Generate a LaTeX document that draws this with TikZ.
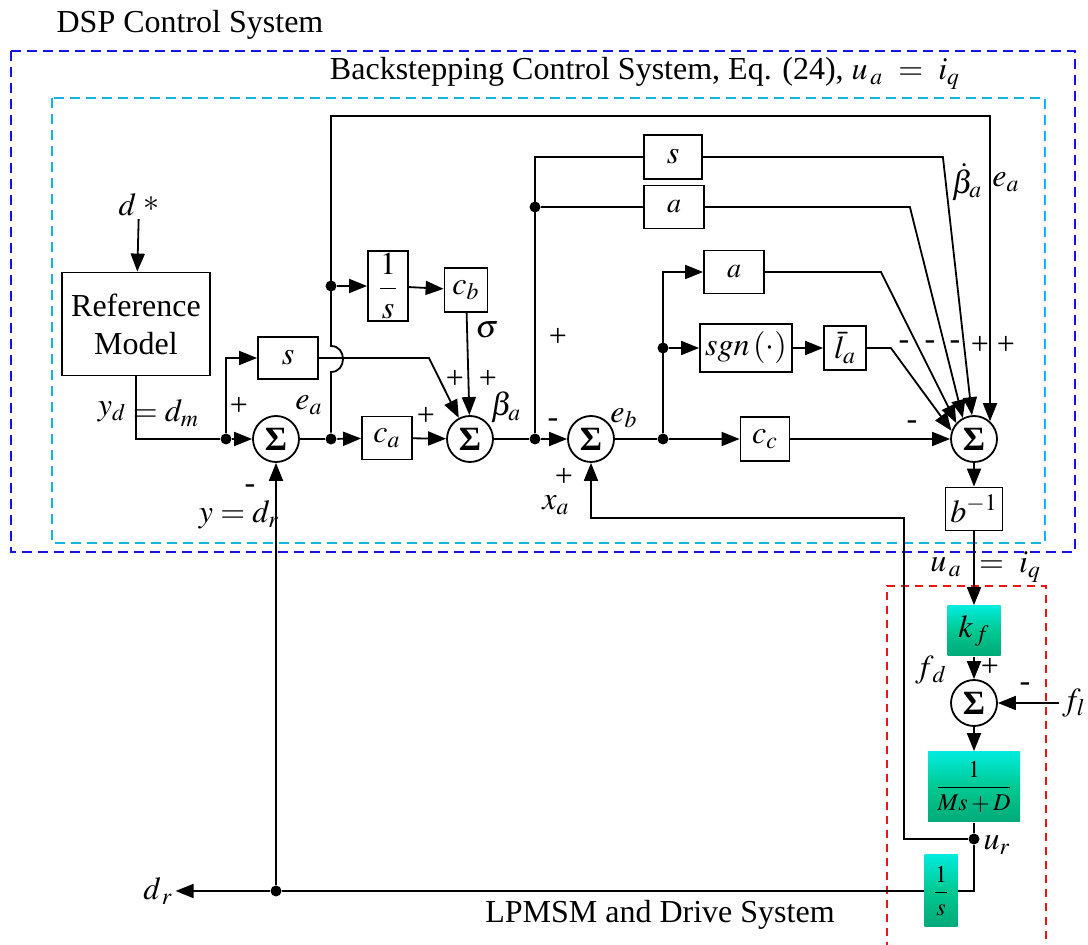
\documentclass[tikz,border=0pt]{standalone}
\usepackage{mathptmx}
\usepackage{fontspec}
\setmainfont{Liberation Serif}
\usepackage{tikz}
\usetikzlibrary{arrows.meta}
\definecolor{dspblue}{RGB}{20,20,230}
\definecolor{bscyan}{RGB}{20,180,235}
\definecolor{drvred}{RGB}{240,20,20}
\definecolor{tealtop}{RGB}{0,235,220}
\definecolor{tealmid}{RGB}{0,200,145}
\definecolor{tealbot}{RGB}{0,170,120}

\begin{document}
\begin{tikzpicture}[x=0.5pt, y=-0.5pt, line width=0.9pt,
  every node/.style={font=\fontsize{16}{19}\selectfont, inner sep=1pt},
  blk/.style 2 args={draw, inner sep=0pt, minimum width=#1, minimum height=#2},
  grn/.style 2 args={inner sep=0pt, minimum width=#1, minimum height=#2, top color=tealtop, bottom color=tealbot, middle color=tealmid},
  sumc/.style={draw, circle, minimum size=23pt, inner sep=0pt, font=\fontsize{17}{20}\selectfont\bfseries},
  dot/.style={circle, fill, inner sep=0pt, minimum size=5.5pt},
  arr/.style={-{Triangle[length=9pt,width=7pt]}},
  frm/.style={dash pattern=on 5pt off 3pt, line width=1pt}]
\useasboundingbox (0,0) rectangle (1088,945);

% frames and titles
\draw[frm, dspblue] (11,51) rectangle (1075,552);
\draw[frm, bscyan] (52,98) rectangle (1045,543);
\draw[drvred, line width=0.8pt, dash pattern=on 4pt off 3pt] (887,950) |- (1046,586) -- (1046,950);
\node (tdsp) at (190,25) {DSP Control System};
\node (tbs) at (645,73) {Backstepping Control System, Eq. (24), $u_{\,a}\ =\ i_q$};
\node (tlp) at (660,915) {LPMSM and Drive System};

% reference model and first error
\node (dst) at (139,205) {$d\;\raisebox{2pt}{$*$}$};
\node[blk={74pt}{51.5pt}, align=center] (ref) at (136,324) {Reference\\Model};
\node[sumc] (s1) at (276,439) {Σ};
\node[dot] (j1) at (226,439) {};
\node[blk={30pt}{21pt}] (ds) at (288,358) {$s$};
\node (lyd) at (112,412) {$y_d$};
\node (ldm) at (166,413) {$= d_m$};
\node (lp1) at (239,406) {+};
\node (lea1) at (309,405) {$e_a$};
\node (lm1) at (250,489) {-};
\node (ly) at (239,515) {$y = d_r$};
\draw[arr] (dst) -- (ref);
\draw (ref.south) |- (j1);
\draw[arr] (j1) -- (s1);
\draw[arr] (j1) |- (ds.west);

% beta_a
\node[dot] (j2) at (331,439) {};
\node[blk={25pt}{21.5pt}] (ca) at (387,438) {$c_a$};
\node[dot] (j3) at (331,286) {};
\node[blk={20pt}{35pt}] (inv1) at (388,286) {$\displaystyle\frac{1}{s}$};
\node[blk={21.5pt}{22pt}] (cb) at (466,290) {$c_b$};
\node[sumc] (sum2) at (470,439) {Σ};
\node (lp2) at (426,416) {+};
\node (lsig) at (487,330) {$\sigma$};
\node (lp3) at (455,379) {+};
\node (lp4) at (488,379) {+};
\node (lba) at (506,407) {$\beta_a$};
\coordinate (hopb) at (331,372);
\coordinate (hopt) at (331,346);
\coordinate (tl) at (331,116);
\draw (s1) -- (j2);
\draw[arr] (j2) -- (ca);
\draw[arr] (j3) -- (inv1);
\draw[arr] (inv1) -- (cb);
\draw[arr] (cb) -- (sum2);
\draw[arr] (ca) -- (sum2);
\draw[arr] (ds.east) -- ++(110,0) -- (sum2.118);

% second error
\node[dot] (j4) at (535,439) {};
\node[dot] (j5) at (535,207) {};
\node[blk={29pt}{22pt}] (dsu) at (673,157) {$s$};
\node[blk={30pt}{21.5pt}, font=\fontsize{14}{16}\selectfont] (da1) at (674,207) {$a$};
\node[sumc] (sumb) at (591,439) {Σ};
\node (lm2) at (553,423) {-};
\node (lp5) at (558,337) {+};
\node (leb) at (624,418) {$e_b$};
\node (lp6) at (564,477) {+};
\node (lxa) at (556,505) {$x_a$};
\draw (sum2) -- (j4);
\draw[arr] (j4) -- (sumb);
\draw (j4) |- (dsu.west);
\draw (j5) -- (da1.west);

% control law
\node[dot] (j6) at (663,439) {};
\node[dot] (j7) at (663,348) {};
\node[blk={24.5pt}{22pt}] (dcc) at (765,439) {$c_c$};
\node[blk={30pt}{21.5pt}, font=\fontsize{14}{16}\selectfont] (da2) at (734,272) {$a$};
\node[blk={46pt}{24pt}] (dsgn) at (746,348) {$sgn\left(\cdot\right)$};
\node[blk={21pt}{22pt}] (dla) at (845,348) {$\bar{l}_a$};
\node[sumc] (sum3) at (974,439) {Σ};
\node (lbd) at (967,182) {$\dot{\beta}_a$};
\node (lea2) at (1006,182) {$e_a$};
\foreach \x/\s in {904/-,930/-,955/-,980/+,1006/+} \node (sg\x) at (\x,345) {\s};
\node (lm3) at (912,425) {-};
\coordinate (tr) at (sum3.48 |- tl);
\draw (sumb) -- (j6);
\draw[arr] (j6) -- (dcc);
\draw[arr] (j6) |- (da2.west);
\draw[arr] (j7) -- (dsgn.west);
\draw[arr] (dsgn) -- (dla);
\draw[arr] (dcc) -- (sum3);
\foreach \b/\len/\ang in {dsu/240/95, da1/205/118, da2/116/138, dla/24/160}
  \draw[arr] (\b.east) -- ++(\len,0) -- (sum3.\ang);
\draw[arr] (j2) -- (hopb) .. controls +(16,0) and +(16,0) .. (hopt) -- (tl) -- (tr) -- (sum3.48);

% plant
\node[blk={28.5pt}{21.5pt}] (dbinv) at (974,509) {$b^{-1}$};
\node (lua) at (946,567) {$u_{\,a}$};
\node (liq) at (1010,567) {$=\ i_q$};
\node[grn={26.5pt}{25pt}] (kf) at (974,631) {$k_{\,f}$};
\node[sumc] (sum4) at (974,703) {Σ};
\node (lfd) at (931,670) {$f_{\,d}$};
\node (lp7) at (990,667) {+};
\node (lm4) at (1025,687) {-};
\node (fl) at (1074,703) {$f_l$};
\node[grn={46pt}{35pt}, font=\fontsize{12}{14}\selectfont] (dmsd) at (974,787) {$\displaystyle\frac{1}{Ms+D}$};
\node[dot] (j8) at (974,839) {};
\node (lur) at (997,845) {$u_r$};
\node[grn={16.5pt}{36pt}, font=\fontsize{12}{14}\selectfont] (dint) at (941,891) {$\displaystyle\frac{1}{s}$};
\node[dot] (j9) at (276,891) {};
\node (ldr) at (158,891) {$d_{\,r}$};
\coordinate (xa1) at (904,518);
\draw[arr] (sum3) -- (dbinv);
\draw[arr] (dbinv) -- (kf);
\draw[arr] (kf) -- (sum4);
\draw[arr] (fl) -- (sum4);
\draw[arr] (sum4) -- (dmsd);
\draw (dmsd) -- (j8);
\draw (j8) |- (dint.east);
\draw (dint) -- (j9);
\draw[arr] (j9) -- (ldr);
\draw[arr] (j9) -- (s1);
\draw[arr] (j8) -| (xa1) -| (sumb);
\end{tikzpicture}
\end{document}
